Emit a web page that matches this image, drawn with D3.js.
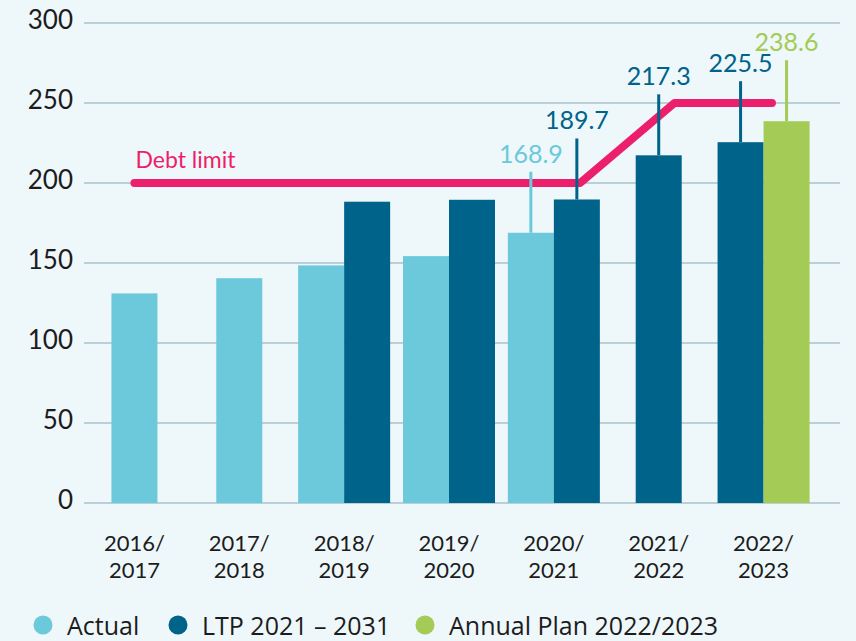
<!DOCTYPE html>
<html>
<head>
<meta charset="utf-8">
<script src="https://cdn.jsdelivr.net/npm/d3@7"></script>
<style>
  html, body { margin: 0; padding: 0; background: #EEF7FA; }
  svg { display: block; }
</style>
</head>
<body>
<svg id="chart" width="856" height="641"></svg>
<script>
// ---- data ----
const years = ["2016/2017", "2017/2018", "2018/2019", "2019/2020", "2020/2021", "2021/2022", "2022/2023"];
const actual = [131, 140.5, 148.5, 154.3, 168.9, null, null];
const ltp = [null, null, 188.3, 189.5, 189.7, 217.3, 225.5];
const annualPlan = [null, null, null, null, null, null, 238.6];
const yTicks = [0, 50, 100, 150, 200, 250, 300];
const debtLimitPos = [0, 4.25, 5.15, 6.08];   // position along the year axis
const debtLimitValues = [200, 200, 250, 250];
const labelled = [["2020/2021", "actual"], ["2020/2021", "ltp"], ["2021/2022", "ltp"], ["2022/2023", "ltp"], ["2022/2023", "annual"]];
const seriesNames = ["actual", "ltp", "annual"];
const legendLabels = ["Actual", "LTP 2021 – 2031", "Annual Plan 2022/2023"];

// ---- styles ----
const colors = { actual: "#6BC9DB", ltp: "#00638A", annual: "#A3CB55" };
const pink = "#EC1F6C";
const gridColor = "#BACFD8";
const textColor = "#1C1C1C";
const numFont = "Lato, 'Noto Sans', sans-serif";
const legendFont = "'Open Sans', 'Noto Sans', sans-serif";

const svg = d3.select("#chart");
svg.append("rect").attr("width", 856).attr("height", 641).attr("fill", "#EEF7FA");

const y = d3.scaleLinear().domain([0, 300]).range([503, 23]);
const x = d3.scaleBand().domain(years).range([82, 816]).padding(0);
const barW = 46;
const center = yr => x(yr) + x.bandwidth() / 2;
const posX = d3.scaleLinear().domain([0, years.length - 1]).range([center(years[0]), center(years[years.length - 1])]);

// gridlines
const grid = svg.append("g");
grid.selectAll("line").data(yTicks).join("line")
  .attr("x1", 84).attr("x2", 840)
  .attr("y1", d => y(d)).attr("y2", d => y(d))
  .attr("stroke", gridColor).attr("stroke-width", 2);

// y tick labels
svg.append("g").selectAll("text").data(yTicks).join("text")
  .attr("x", 73).attr("y", d => y(d) + 6)
  .attr("text-anchor", "end")
  .attr("font-family", numFont).attr("font-size", 26)
  .attr("fill", textColor)
  .text(d => d);

// bars
const seriesData = { actual, ltp, annual: annualPlan };
const bars = [];
years.forEach((yr, i) => {
  const present = seriesNames.filter(s => seriesData[s][i] != null);
  const inner = d3.scaleBand().domain(present)
    .range([center(yr) - barW * present.length / 2, center(yr) + barW * present.length / 2]);
  present.forEach(s => bars.push({ yr, s, v: seriesData[s][i], x0: inner(s), w: inner.bandwidth() }));
});
svg.append("g").selectAll("rect").data(bars).join("rect")
  .attr("x", d => d.x0).attr("width", d => d.w)
  .attr("y", d => y(d.v)).attr("height", d => y(0) - y(d.v))
  .attr("fill", d => colors[d.s]);

// debt limit line
const debtPts = debtLimitPos.map((p, i) => [posX(p), y(debtLimitValues[i])]);
svg.append("path")
  .attr("d", d3.line()(debtPts))
  .attr("fill", "none").attr("stroke", pink).attr("stroke-width", 8)
  .attr("stroke-linecap", "round").attr("stroke-linejoin", "round");
svg.append("text")
  .attr("x", debtPts[0][0] + 1).attr("y", debtPts[0][1] - 15)
  .attr("font-family", numFont).attr("font-size", 23)
  .attr("fill", pink).text("Debt limit");

// value labels with leader lines
const labelBars = labelled.map(([yr, s]) => bars.find(b => b.yr === yr && b.s === s));
const lead = 61;
const lg = svg.append("g");
lg.selectAll("line").data(labelBars).join("line")
  .attr("x1", d => d.x0 + d.w / 2).attr("x2", d => d.x0 + d.w / 2)
  .attr("y1", d => y(d.v)).attr("y2", d => y(d.v) - lead)
  .attr("stroke", d => colors[d.s]).attr("stroke-width", 3);
lg.selectAll("text").data(labelBars).join("text")
  .attr("x", d => d.x0 + d.w / 2).attr("y", d => y(d.v) - lead - 9)
  .attr("text-anchor", "middle")
  .attr("font-family", numFont).attr("font-size", 25)
  .attr("fill", d => colors[d.s])
  .text(d => d3.format(".1f")(d.v));

// x axis labels (two lines)
const xg = svg.append("g");
xg.selectAll("text.l1").data(years).join("text").attr("class", "l1")
  .attr("x", d => center(d)).attr("y", 551)
  .attr("text-anchor", "middle")
  .attr("font-family", numFont).attr("font-size", 22)
  .attr("fill", textColor)
  .text(d => d.split("/")[0] + "/");
xg.selectAll("text.l2").data(years).join("text").attr("class", "l2")
  .attr("x", d => center(d)).attr("y", 578)
  .attr("text-anchor", "middle")
  .attr("font-family", numFont).attr("font-size", 22)
  .attr("fill", textColor)
  .text(d => d.split("/")[1]);

// legend
const legendX = [43, 178, 425];
const leg = svg.append("g").selectAll("g").data(seriesNames).join("g")
  .attr("transform", (d, i) => `translate(${legendX[i]},625)`);
leg.append("circle").attr("r", 9.5).attr("fill", d => colors[d]);
leg.append("text").attr("x", 24).attr("y", 10)
  .attr("font-family", legendFont).attr("font-size", 25)
  .attr("fill", textColor)
  .text((d, i) => legendLabels[i]);
</script>
</body>
</html>
